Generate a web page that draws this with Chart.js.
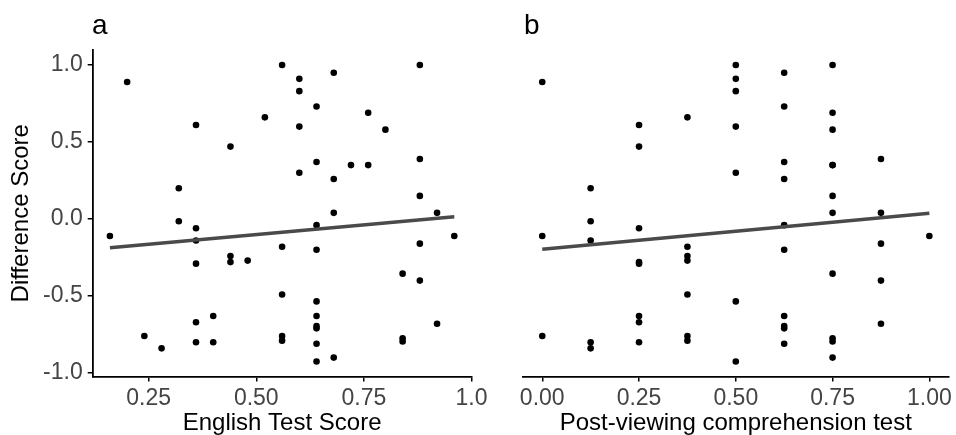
<!DOCTYPE html>
<html>
<head>
<meta charset="utf-8">
<script src="https://cdn.jsdelivr.net/npm/chart.js@4"></script>
<style>
  body { margin: 0; background: #fff; }
  #wrap { position: relative; width: 956px; height: 435px; overflow: hidden; }
  canvas { position: absolute; top: 0; }
  .tag { position: absolute; font-family: "Liberation Sans", Arial, sans-serif; font-size: 28px; line-height: 28px; color: #000; }
</style>
</head>
<body>
<div id="wrap">
  <canvas id="left" width="500" height="435" style="left:0;width:500px;height:435px"></canvas>
  <canvas id="right" width="476" height="435" style="left:480px;width:476px;height:435px"></canvas>
  <div class="tag" style="left:92px;top:11px">a</div>
  <div class="tag" style="left:524px;top:11px">b</div>
</div>
<script>
// panel a: English test score vs difference score
var englishScore = [0.16, 0.20, 0.24, 0.28, 0.32, 0.32, 0.36, 0.36, 0.36, 0.36, 0.36, 0.36,
    0.40, 0.40, 0.44, 0.44, 0.44, 0.48, 0.52, 0.56, 0.56, 0.56, 0.56, 0.56,
    0.60, 0.60, 0.60, 0.60, 0.64, 0.64, 0.64, 0.64, 0.64, 0.64, 0.64, 0.64, 0.64, 0.64,
    0.68, 0.68, 0.68, 0.68, 0.72, 0.76, 0.76, 0.80, 0.84, 0.84, 0.84,
    0.88, 0.88, 0.88, 0.88, 0.88, 0.92, 0.92, 0.96];
var diffA = [-0.11, 0.89, -0.76, -0.84, 0.20, -0.015, 0.61, -0.06, -0.14, -0.29, -0.67, -0.80,
    -0.63, -0.80, 0.47, -0.24, -0.28, -0.27, 0.66, 1.00, -0.18, -0.49, -0.76, -0.79,
    0.91, 0.83, 0.60, 0.30, 0.73, 0.37, -0.04, -0.20, -0.535, -0.63, -0.695, -0.71, -0.81, -0.925,
    0.95, 0.26, 0.04, -0.90, 0.35, 0.69, 0.35, 0.58, -0.355, -0.775, -0.795,
    1.00, 0.39, 0.15, -0.16, -0.40, 0.04, -0.68, -0.11];
var fitAX = [0.16, 0.96];
var fitAY = [-0.186, 0.015];

// panel b: post-viewing comprehension vs difference score
var comprehension = [0, 0, 0,
    0.125, 0.125, 0.125, 0.125, 0.125,
    0.25, 0.25, 0.25, 0.25, 0.25, 0.25, 0.25, 0.25,
    0.375, 0.375, 0.375, 0.375, 0.375, 0.375, 0.375,
    0.5, 0.5, 0.5, 0.5, 0.5, 0.5, 0.5,
    0.625, 0.625, 0.625, 0.625, 0.625, 0.625, 0.625, 0.625, 0.625, 0.625,
    0.75, 0.75, 0.75, 0.75, 0.75, 0.75, 0.75, 0.75, 0.75, 0.75, 0.75,
    0.875, 0.875, 0.875, 0.875, 0.875,
    1.0];
var diffB = [0.89, -0.11, -0.76,
    0.20, -0.015, -0.14, -0.80, -0.84,
    0.61, 0.47, -0.06, -0.28, -0.29, -0.63, -0.67, -0.80,
    0.66, -0.18, -0.24, -0.27, -0.49, -0.76, -0.79,
    1.00, 0.91, 0.83, 0.60, 0.30, -0.535, -0.925,
    0.95, 0.73, 0.37, 0.26, -0.04, -0.20, -0.63, -0.695, -0.71, -0.81,
    1.00, 0.69, 0.58, 0.35, 0.35, 0.15, 0.04, -0.355, -0.775, -0.795, -0.90,
    0.39, 0.04, -0.16, -0.40, -0.68,
    -0.11];
var fitBX = [0, 1];
var fitBY = [-0.197, 0.037];

var yTickValues = [-1, -0.5, 0, 0.5, 1];
var yTickLabels = ['-1.0', '-0.5', '0.0', '0.5', '1.0'];
var aTickValues = [0.25, 0.5, 0.75, 1.0];
var aTickLabels = ['0.25', '0.50', '0.75', '1.0'];
var bTickValues = [0, 0.25, 0.5, 0.75, 1.0];
var bTickLabels = ['0.00', '0.25', '0.50', '0.75', '1.00'];

Chart.defaults.font.family = '"Liberation Sans", Arial, sans-serif';
Chart.defaults.animation = false;

function zip(xs, ys) {
    return xs.map(function (x, i) { return { x: x, y: ys[i] }; });
}

function panel(ctx, opts) {
    return new Chart(ctx, {
        type: 'scatter',
        data: {
            datasets: [
                {
                    type: 'line',
                    data: zip(opts.fitX, opts.fitY),
                    borderColor: '#4a4a4a',
                    borderWidth: 3.5,
                    pointRadius: 0,
                    fill: false
                },
                {
                    data: zip(opts.xs, opts.ys),
                    backgroundColor: '#000',
                    borderWidth: 0,
                    pointRadius: 3.3,
                    pointHoverRadius: 3.3
                }
            ]
        },
        options: {
            responsive: false,
            clip: false,
            layout: { padding: opts.padding },
            plugins: { legend: { display: false }, tooltip: { enabled: false } },
            scales: {
                x: {
                    type: 'linear',
                    min: opts.xMin,
                    max: opts.xMax,
                    afterBuildTicks: function (s) { s.ticks = opts.tickValues.map(function (v) { return { value: v }; }); },
                    afterFit: function (s) { s.height = 58.6; },
                    grid: { drawOnChartArea: false, drawTicks: true, tickLength: 5, color: '#000', lineWidth: 1.5 },
                    border: { color: '#000', width: 1.8 },
                    ticks: {
                        padding: 3,
                        color: '#444',
                        font: { size: 23 },
                        callback: function (v, i) { return opts.tickLabels[i]; }
                    },
                    title: { display: true, text: opts.xTitle, color: '#000', font: { size: 24, lineHeight: 1 }, padding: { top: 0, bottom: 0 } }
                },
                y: {
                    display: opts.showY,
                    min: -1.022,
                    max: 1.096,
                    afterBuildTicks: function (s) { s.ticks = yTickValues.map(function (v) { return { value: v }; }); },
                    afterFit: function (s) { s.width = opts.showY ? 92.7 : 0; },
                    grid: { drawOnChartArea: false, drawTicks: true, tickLength: 5, color: '#000', lineWidth: 1.5 },
                    border: { color: '#000', width: 1.8 },
                    ticks: {
                        padding: 5,
                        color: '#444',
                        font: { size: 23 },
                        callback: function (v, i) { return yTickLabels[i]; }
                    },
                    title: { display: true, text: 'Difference Score', color: '#000', font: { size: 24, lineHeight: 1 }, padding: { top: 9, bottom: 0 } }
                }
            }
        }
    });
}

panel(document.getElementById('left').getContext('2d'), {
    xs: englishScore, ys: diffA, fitX: fitAX, fitY: fitAY,
    xMin: 0.12, xMax: 1.0,
    tickValues: aTickValues, tickLabels: aTickLabels,
    xTitle: 'English Test Score',
    showY: true,
    padding: { top: 50.2, right: 28.5, left: 0, bottom: 0 }
});

panel(document.getElementById('right').getContext('2d'), {
    xs: comprehension, ys: diffB, fitX: fitBX, fitY: fitBY,
    xMin: -0.05, xMax: 1.05,
    tickValues: bTickValues, tickLabels: bTickLabels,
    xTitle: 'Post-viewing comprehension test',
    showY: false,
    padding: { top: 50.2, right: 7.3, left: 42.9, bottom: 0 }
});
</script>
</body>
</html>
